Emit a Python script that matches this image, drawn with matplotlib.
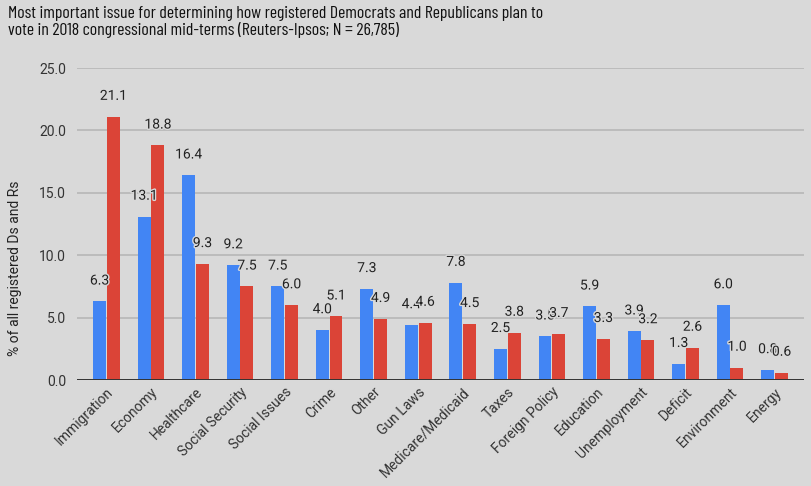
import matplotlib
matplotlib.use("Agg")
import matplotlib.pyplot as plt
import matplotlib.patheffects as pe
from matplotlib import font_manager as fm
import numpy as np

categories = ["Immigration", "Economy", "Healthcare", "Social Security", "Social Issues",
              "Crime", "Other", "Gun Laws", "Medicare/Medicaid", "Taxes", "Foreign Policy",
              "Education", "Unemployment", "Deficit", "Environment", "Energy"]
democrats = [6.3, 13.1, 16.4, 9.2, 7.5, 4.0, 7.3, 4.4, 7.8, 2.5, 3.5, 5.9, 3.9, 1.3, 6.0, 0.8]
republicans = [21.1, 18.8, 9.3, 7.5, 6.0, 5.1, 4.9, 4.6, 4.5, 3.8, 3.7, 3.3, 3.2, 2.6, 1.0, 0.6]
y_ticks = [0, 5, 10, 15, 20, 25]

TITLE = ("Most important issue for determining how registered Democrats and Republicans plan to\n"
         "vote in 2018 congressional mid-terms (Reuters-Ipsos; N = 26,785)")

BG = "#d9d9d9"
BLUE = "#4285f4"
RED = "#db4437"

plt.rcParams["font.family"] = ["Roboto", "DejaVu Sans"]

fig = plt.figure(figsize=(8.11, 4.86), dpi=100, facecolor=BG)
ax = fig.add_axes([77 / 811, 1 - 380 / 486, (804 - 77) / 811, (380 - 68) / 486])
ax.set_facecolor(BG)

x = np.arange(len(categories))
w = 0.29
off = 0.155
bars_d = ax.bar(x - off, democrats, w, color=BLUE, zorder=3)
bars_r = ax.bar(x + off, republicans, w, color=RED, zorder=3)

halo = [pe.withStroke(linewidth=2, foreground=BG)]
for bars, vals in ((bars_d, democrats), (bars_r, republicans)):
    for b, v in zip(bars, vals):
        ax.annotate(f"{v:.1f}", (b.get_x() + b.get_width() / 2, v),
                    xytext=(0, 15), textcoords="offset points",
                    ha="center", va="center", fontsize=10, color="#222222",
                    path_effects=halo, zorder=5)

ax.set_xlim(-0.66, 15.66)
ax.set_ylim(0, 25)
ax.set_yticks(y_ticks)
ax.set_yticklabels([f"{t:.1f}" for t in y_ticks])
ax.yaxis.grid(True, color="#b7b7b7", linewidth=1.2, zorder=0)
ax.set_axisbelow(True)
ax.axhline(0, color="#333333", linewidth=1.4, zorder=4)
for s in ax.spines.values():
    s.set_visible(False)
ax.tick_params(axis="both", length=0, labelsize=10, labelcolor="#333333")
ax.tick_params(axis="y", pad=8)
ax.set_xticks(x)
ax.set_xticklabels(categories, rotation=45, ha="right", rotation_mode="anchor")

fig.text(15 / 811, 1 - 268 / 486, "% of all registered Ds and Rs", rotation=90,
         ha="center", va="center", fontsize=10, color="#222222")

# pick the installed narrow face whose title width is closest to the reference (~505 px)
installed = {f.name for f in fm.fontManager.ttflist}
candidates = [n for n in ("Roboto Condensed", "Archivo Narrow", "Liberation Sans Narrow",
                          "Asap Condensed", "Barlow Condensed", "Barlow Semi Condensed")
              if n in installed]
renderer = fig.canvas.get_renderer()
best, best_err = "Roboto", None
for name in candidates:
    t = fig.text(0, 0, TITLE.split("\n")[0], fontsize=13.5, family=name)
    err = abs(t.get_window_extent(renderer).width - 505)
    t.remove()
    if best_err is None or err < best_err:
        best, best_err = name, err

fig.text(8 / 811, 1 - 6 / 486, TITLE, ha="left", va="top", fontsize=12.8,
         color="#111111", linespacing=1.05, family=[best, "DejaVu Sans"])

fig.savefig("out.png", dpi=100, facecolor=BG)
